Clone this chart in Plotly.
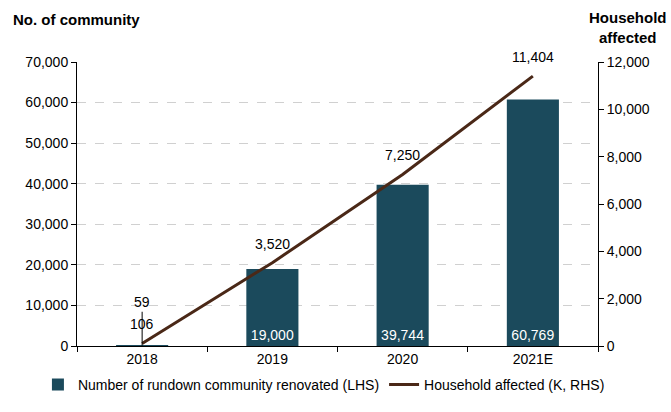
import plotly.graph_objects as go

categories = ["2018", "2019", "2020", "2021E"]
communities = [59, 19000, 39744, 60769]
households = [106, 3520, 7250, 11404]
left_ticks = [0, 10000, 20000, 30000, 40000, 50000, 60000, 70000]
right_ticks = [0, 2000, 4000, 6000, 8000, 10000, 12000]

BAR = "#1B4A5C"
LINE = "#4A2817"
FONT = "Liberation Sans, Arial, sans-serif"

bar_text = ["" if v < 1000 else f"{v:,}" for v in communities]

fig = go.Figure()
fig.add_trace(go.Bar(
    x=categories, y=communities, name="Number of rundown community renovated (LHS)",
    marker=dict(color=BAR, line=dict(width=0)), width=0.4,
    text=bar_text, textposition="inside", insidetextanchor="start",
    textfont=dict(color="white", size=14, family=FONT), cliponaxis=False,
    yaxis="y"))
fig.add_trace(go.Scatter(
    x=categories, y=households, name="Household affected (K, RHS)",
    mode="lines", line=dict(color=LINE, width=3), cliponaxis=False,
    yaxis="y2"))

# line value labels
for i, v in enumerate(households):
    fig.add_annotation(x=i, y=v, xref="x", yref="y2", text=f"{v:,}", showarrow=False,
                       yshift=19, font=dict(size=14, color="black", family=FONT))

# small bar label for 2018 with leader line
for i, v in enumerate(communities):
    if v < 1000:
        fig.add_annotation(x=i, y=v, xref="x", yref="y", text=f"{v:,}",
                           showarrow=True, arrowhead=0, arrowwidth=1, arrowcolor="black",
                           ax=0, ay=-34, font=dict(size=14, color="black", family=FONT),
                           yanchor="bottom")

fig.update_layout(
    width=671, height=412,
    margin=dict(l=77, r=73, t=62, b=66, autoexpand=False),
    plot_bgcolor="white", paper_bgcolor="white",
    font=dict(family=FONT, size=14, color="black"),
    showlegend=True,
    legend=dict(orientation="h", x=-0.075, xanchor="left",
                y=-0.137, yanchor="middle",
                font=dict(size=14, family=FONT), itemwidth=30),
    xaxis=dict(type="category", showline=True, linecolor="black", linewidth=1,
               ticks="outside", tickson="boundaries", ticklen=5, tickcolor="black",
               showgrid=False, tickfont=dict(size=14), range=[-0.5, 3.5]),
    yaxis=dict(range=[0, 70000], tickvals=left_ticks, tickformat=",",
               showline=True, linecolor="black", ticks="outside", ticklen=5,
               tickcolor="black", showgrid=True, gridcolor="#D0D0D0", griddash="dash",
               gridwidth=1, zeroline=False, tickfont=dict(size=14)),
    yaxis2=dict(range=[0, 12000], tickvals=right_ticks, tickformat=",",
                overlaying="y", side="right", showline=True, linecolor="black",
                ticks="outside", ticklen=5, tickcolor="black", showgrid=False,
                zeroline=False, tickfont=dict(size=14)),
)

fig.add_annotation(x=0, xref="paper", y=1, yref="paper", xanchor="left", yanchor="bottom",
                   text="<b>No. of community</b>", showarrow=False, xshift=-66, yshift=32,
                   font=dict(size=15, family=FONT))
fig.add_annotation(x=1, xref="paper", y=1, yref="paper", xanchor="center", yanchor="bottom",
                   text="<b>Household<br>affected</b>", showarrow=False, xshift=30, yshift=14,
                   font=dict(size=15, family=FONT))

fig.write_html("out.html", config={"displayModeBar": False},
               post_script="document.body.style.margin='0';document.body.style.overflow='hidden';")
